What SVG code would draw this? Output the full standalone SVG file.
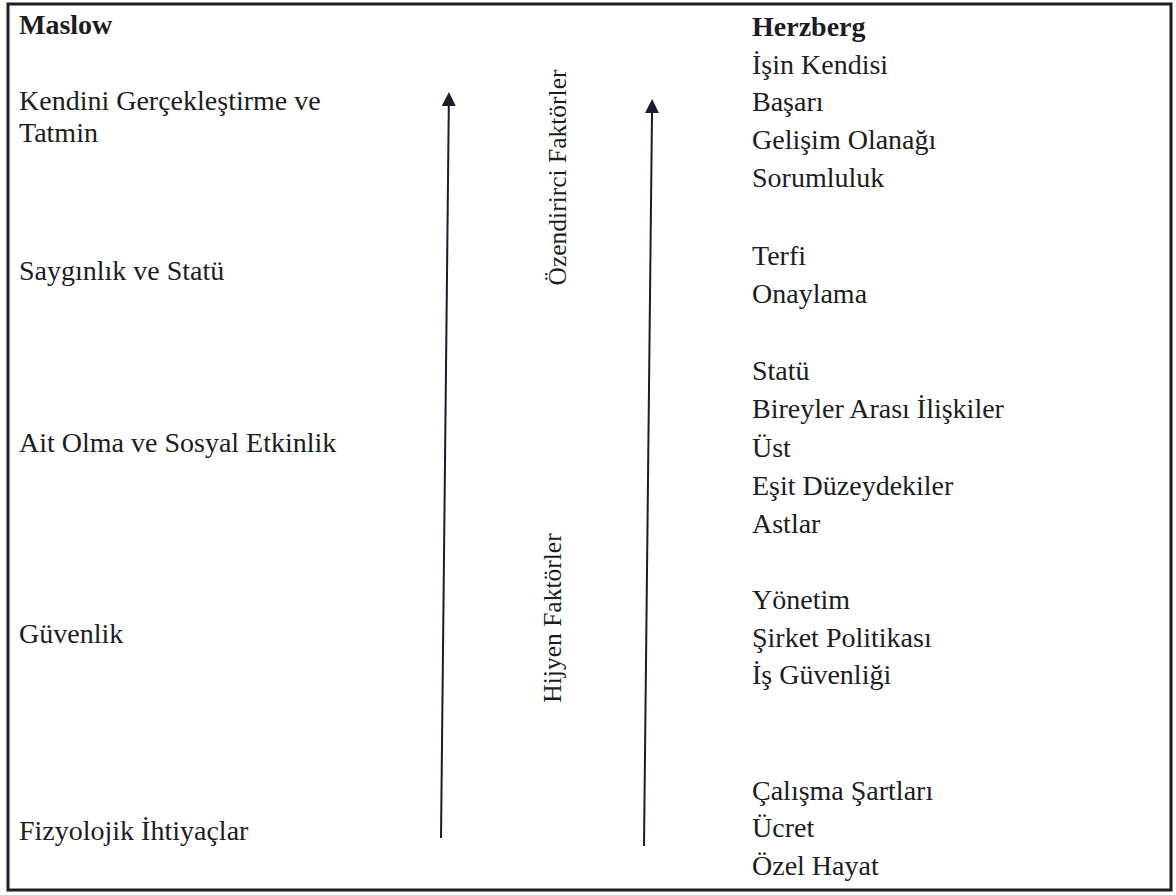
<svg xmlns="http://www.w3.org/2000/svg" width="1176" height="895" viewBox="0 0 1176 895">
<defs>
<style>
text{font-family:"Liberation Serif","Times New Roman",serif;font-size:28px;fill:#1c1c22}
.b{font-weight:bold}
.rot{font-size:25.5px;text-anchor:middle}
.ln{stroke:#1c1c2a;stroke-width:2;fill:none}
</style>
<marker id="ah" markerUnits="userSpaceOnUse" viewBox="0 0 14 14" refX="0" refY="7" markerWidth="14" markerHeight="14" orient="auto">
<path d="M0,0 L14,7 L0,14 z" fill="#1c1c2a"/>
</marker>
</defs>
<rect width="1176" height="895" fill="#ffffff"/>
<rect id="frame" x="8" y="4" width="1163" height="886" fill="none" stroke="#1c1c2a" stroke-width="3"/>
<g id="maslow">
<text class="b" x="19" y="34">Maslow</text>
<text x="19" y="110">Kendini Gerçekleştirme ve</text>
<text x="19" y="142">Tatmin</text>
<text x="19" y="280">Saygınlık ve Statü</text>
<text x="19" y="452">Ait Olma ve Sosyal Etkinlik</text>
<text x="19" y="643">Güvenlik</text>
<text x="19" y="840">Fizyolojik İhtiyaçlar</text>
</g>
<g id="herzberg">
<text class="b" x="752" y="36">Herzberg</text>
<text x="752" y="74">İşin Kendisi</text>
<text x="752" y="111">Başarı</text>
<text x="752" y="149">Gelişim Olanağı</text>
<text x="752" y="187">Sorumluluk</text>
<text x="752" y="265">Terfi</text>
<text x="752" y="303">Onaylama</text>
<text x="752" y="380">Statü</text>
<text x="752" y="418">Bireyler Arası İlişkiler</text>
<text x="752" y="457">Üst</text>
<text x="752" y="495">Eşit Düzeydekiler</text>
<text x="752" y="533">Astlar</text>
<text x="752" y="609">Yönetim</text>
<text x="752" y="647">Şirket Politikası</text>
<text x="752" y="684">İş Güvenliği</text>
<text x="752" y="800">Çalışma Şartları</text>
<text x="752" y="837">Ücret</text>
<text x="752" y="875">Özel Hayat</text>
</g>
<g id="labels">
<text class="rot" transform="translate(566,177.5) rotate(-90)">Özendirirci Faktörler</text>
<text class="rot" transform="translate(561,618) rotate(-90)">Hijyen Faktörler</text>
</g>
<g id="connectors">
<line class="ln" x1="441" y1="838" x2="448.8" y2="106" marker-end="url(#ah)"/>
<line class="ln" x1="644" y1="846" x2="652" y2="113" marker-end="url(#ah)"/>
</g>
</svg>
